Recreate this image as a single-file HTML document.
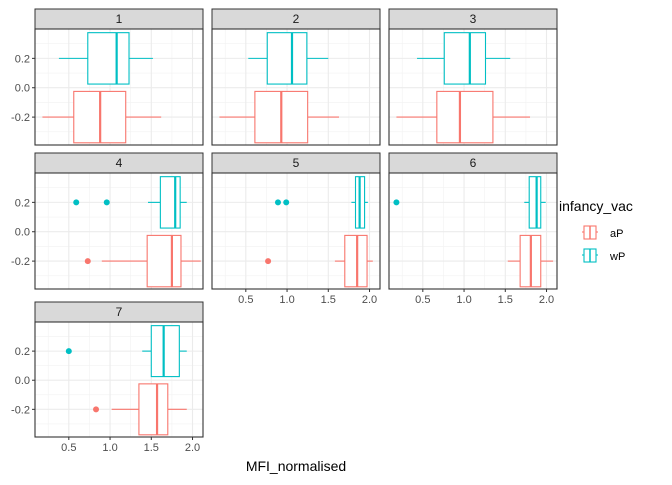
<!DOCTYPE html>
<html><head><meta charset="utf-8"><style>
body{margin:0;background:#fff;font-family:"Liberation Sans",sans-serif}
svg text{font-family:"Liberation Sans",sans-serif}
</style></head><body>
<svg id="c" width="672" height="480" xmlns="http://www.w3.org/2000/svg"></svg>
<script>
const panels=["1","2","3","4","5","6","7"];
const groups=["aP","wP"];
const groupY=[-0.2,0.2];
// [whiskerLow, q1, median, q3, whiskerHigh] per panel: aP then wP
const aPStats=[[0.18,0.56,0.88,1.19,1.62],[0.18,0.61,0.93,1.25,1.63],[0.18,0.67,0.95,1.35,1.80],[0.90,1.45,1.75,1.86,2.10],[1.58,1.70,1.85,1.97,2.04],[1.53,1.68,1.81,1.93,2.08],[1.02,1.35,1.57,1.70,1.93]];
const wPStats=[[0.38,0.73,1.08,1.23,1.52],[0.53,0.76,1.06,1.24,1.50],[0.43,0.76,1.07,1.26,1.56],[1.46,1.61,1.79,1.85,1.93],[1.78,1.83,1.88,1.94,1.98],[1.73,1.79,1.88,1.93,1.99],[1.39,1.50,1.65,1.84,1.93]];
const aPOutliers=[[],[],[],[0.73],[0.77],[],[0.83]];
const wPOutliers=[[],[],[],[0.59,0.96],[0.89,0.99],[0.18],[0.50]];
const xTicks=[0.5,1.0,1.5,2.0];
const xTickLabels=["0.5","1.0","1.5","2.0"];
const yTicks=[0.2,0.0,-0.2];
const yTickLabels=["0.2","0.0","-0.2"];
const colors=["#F8766D","#00BFC4"];

const svg=document.getElementById('c');
const NS="http://www.w3.org/2000/svg";
function mk(t,a,p){const e=document.createElementNS(NS,t);for(const k in a)e.setAttribute(k,a[k]);(p||svg).appendChild(e);return e;}
const XMIN=0.09,XMAX=2.127,YMIN=-0.39,YMAX=0.40,PW=168;
const colX=[35,212,389], rowTop=[29,173,322], rowH=[116,116,115];
panels.forEach((name,i)=>{
  const c=i%3,r=Math.floor(i/3);
  const x0=colX[c],y0=rowTop[r],h=rowH[r];
  const sx=v=>x0+(v-XMIN)/(XMAX-XMIN)*PW;
  const sy=v=>y0+(YMAX-v)/(YMAX-YMIN)*h;
  const g=mk('g',{});
  
  
  const strip=mk('rect',{x:x0,y:y0-20,width:PW,height:20,fill:'#d9d9d9',stroke:'#333','stroke-width':1},g);
  
  
  const st=mk('text',{x:x0+PW/2,y:y0-6,'text-anchor':'middle','font-size':12,fill:'#1a1a1a'},g);st.textContent=name;
  
  
  mk('rect',{x:x0,y:y0,width:PW,height:h,fill:'#fff'},g);
  [0.25,0.75,1.25,1.75].forEach(v=>mk('line',{x1:sx(v),x2:sx(v),y1:y0,y2:y0+h,stroke:'#f2f2f2','stroke-width':0.6},g));
  [0.3,0.1,-0.1,-0.3].forEach(v=>mk('line',{x1:x0,x2:x0+PW,y1:sy(v),y2:sy(v),stroke:'#f2f2f2','stroke-width':0.6},g));
  xTicks.forEach(v=>mk('line',{x1:sx(v),x2:sx(v),y1:y0,y2:y0+h,stroke:'#ebebeb','stroke-width':1.1},g));
  yTicks.forEach(v=>mk('line',{x1:x0,x2:x0+PW,y1:sy(v),y2:sy(v),stroke:'#ebebeb','stroke-width':1.1},g));
  [aPStats[i],wPStats[i]].forEach((s,gi)=>{
    const yc=groupY[gi],col=colors[gi];
    const bg=mk('g',{},g);
    
    
    mk('line',{x1:sx(s[0]),x2:sx(s[1]),y1:sy(yc),y2:sy(yc),stroke:col,'stroke-width':1.1},bg);
    mk('line',{x1:sx(s[3]),x2:sx(s[4]),y1:sy(yc),y2:sy(yc),stroke:col,'stroke-width':1.1},bg);
    mk('rect',{x:sx(s[1]),y:sy(yc+0.175),width:sx(s[3])-sx(s[1]),height:sy(yc-0.175)-sy(yc+0.175),fill:'#fff',stroke:col,'stroke-width':1.1},bg);
    mk('line',{x1:sx(s[2]),x2:sx(s[2]),y1:sy(yc+0.175),y2:sy(yc-0.175),stroke:col,'stroke-width':2.2},bg);
    [aPOutliers,wPOutliers][gi][i].forEach(o=>{
      const p=mk('circle',{cx:sx(o),cy:sy(yc),r:3,fill:col},bg);
      
      
    });
  });
  mk('rect',{x:x0,y:y0,width:PW,height:h,fill:'none',stroke:'#333','stroke-width':1.1},g);
  if(c===0){yTicks.forEach((v,k)=>{
    mk('line',{x1:x0-3,x2:x0,y1:sy(v),y2:sy(v),stroke:'#333'},g);
    const t=mk('text',{x:x0-5,y:sy(v)+4,'text-anchor':'end','font-size':11,fill:'#4d4d4d'},g);t.textContent=yTickLabels[k];
    
    
  });}
  if(i>=4){xTicks.forEach((v,k)=>{
    mk('line',{x1:sx(v),x2:sx(v),y1:y0+h,y2:y0+h+3,stroke:'#333'},g);
    const t=mk('text',{x:sx(v),y:y0+h+14,'text-anchor':'middle','font-size':11,fill:'#4d4d4d'},g);t.textContent=xTickLabels[k];
    
    
  });}
});
const xt=mk('text',{x:296,y:471,'text-anchor':'middle','font-size':14,fill:'#000'});xt.textContent='MFI_normalised';


const lg=mk('g',{});


const lt=mk('text',{x:559,y:211,'font-size':14,fill:'#000'},lg);lt.textContent='infancy_vac';
groups.forEach((gname,k)=>{
  const ky=223+k*23,col=colors[k];
  const e=mk('g',{},lg);
  
  
  mk('line',{x1:582,x2:598,y1:ky+9,y2:ky+9,stroke:col,'stroke-width':1.1},e);
  mk('rect',{x:584,y:ky+3,width:12,height:13,fill:'#fff',stroke:col,'stroke-width':1.1},e);
  mk('line',{x1:590,x2:590,y1:ky+3,y2:ky+16,stroke:col,'stroke-width':1.5},e);
  const t=mk('text',{x:610,y:ky+14,'font-size':11,fill:'#000'},e);t.textContent=gname;
});
</script>
</body></html>
